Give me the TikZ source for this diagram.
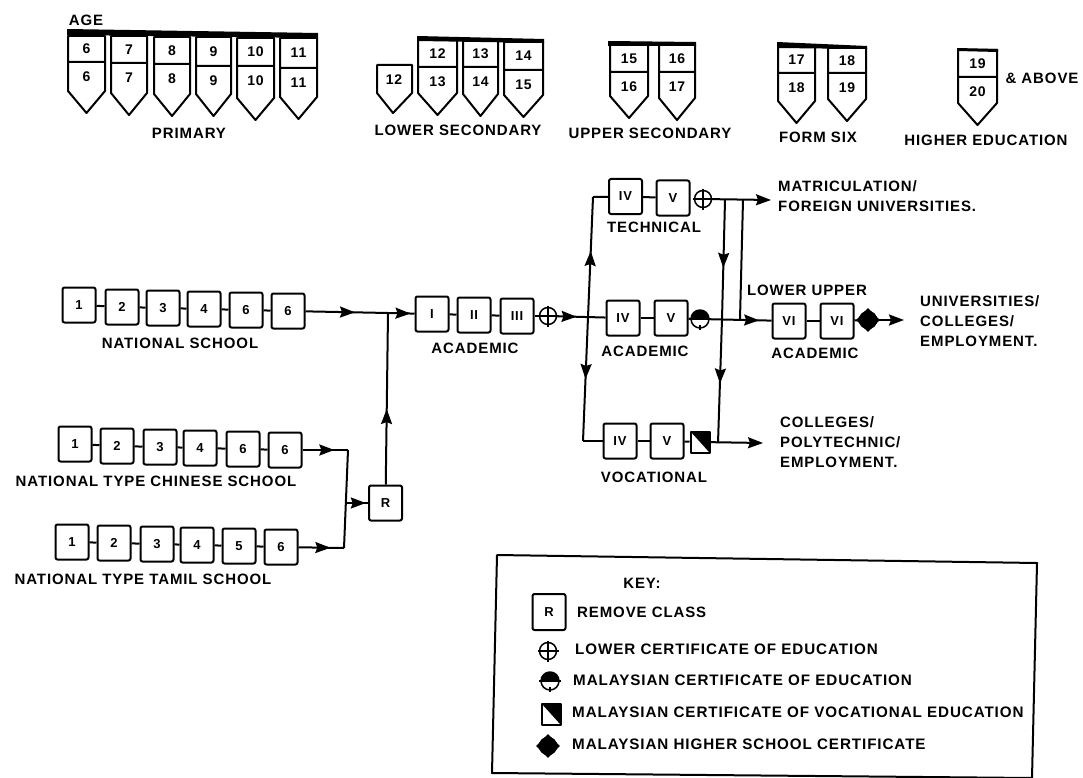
\documentclass[tikz,border=0pt]{standalone}
\usepackage{fontspec}
\setmainfont[LetterSpace=6]{Liberation Sans}
\usetikzlibrary{decorations.markings, arrows.meta, shapes.geometric}
\tikzset{
    txt/.style={inner sep=0pt, font=\fontsize{15}{20}\selectfont\bfseries},
    num/.style={inner sep=0pt, font=\fontsize{14}{16}\selectfont\bfseries},
    lbl/.style={txt, anchor=west, align=left},
    keylbl/.style={lbl, font=\fontsize{15.2}{20}\selectfont\bfseries},
    classbox/.style={draw, line width=2pt, rounded corners=2pt, minimum width=33pt, minimum height=35pt, inner sep=0pt, font=\fontsize{13}{15}\selectfont\bfseries},
    lcemark/.style={draw, circle, line width=1.5pt, minimum size=17pt, inner sep=0pt,
        append after command={
            ([yshift=10.5pt]\tikzlastnode.center) edge[line width=1.5pt] ([yshift=-10.5pt]\tikzlastnode.center)
            ([xshift=-10.5pt]\tikzlastnode.center) edge[line width=1.5pt] ([xshift=10.5pt]\tikzlastnode.center)}},
    mcemark/.style={draw, circle, line width=1.5pt, minimum size=18pt, inner sep=0pt,
        path picture={\fill (path picture bounding box.west) rectangle (path picture bounding box.north east);},
        append after command={
            ([xshift=-11pt]\tikzlastnode.center) edge[line width=2pt] ([xshift=11pt]\tikzlastnode.center)
            ([yshift=-6pt]\tikzlastnode.center) edge[line width=1.5pt] ([yshift=-11pt]\tikzlastnode.center)}},
    mcvemark/.style={draw, line width=2pt, minimum width=19pt, minimum height=21pt, inner sep=0pt,
        path picture={\fill (path picture bounding box.north west) -- (path picture bounding box.north east)
            -- (path picture bounding box.south east) -- cycle;}},
    mhscmark/.style={circle, draw, fill=black, minimum size=18pt, inner sep=0pt,
        append after command={(\tikzlastnode.center) node[diamond, fill=black, minimum size=24pt, inner sep=0pt] {}}},
    flow/.style={line width=2pt},
    arrowat/.style={postaction={decorate, decoration={markings, mark=at position #1 with {\arrow{Stealth[length=15pt,width=11pt,inset=2pt]}}}}},
}
\begin{document}
\begin{tikzpicture}[x=1pt, y=-1pt, >={Stealth[length=15pt,width=11pt,inset=2pt]}, line join=round]
    \useasboundingbox (0,0) rectangle (1083,778);

    % Age shields: left, width, top, divider, tip, upper age, lower age
    \foreach \n/\xl/\wid/\tp/\dv/\tip/\ageA/\ageB in {
        a/68/37/36/62/113/6/6, b/111/36/36/63/115/7/7, c/154/36/37/64/116/8/8, d/196/35/37/66/116/9/9,
        e/237/37/38/66/120/10/10, f/280/37/38/68/119/11/11,
        g/418/39/40/67/115/12/13, h/463/35/41/67/116/13/14, i/504/39/42/70/117/14/15,
        j/610/38/45/72/118/15/16, k/659/36/45/72/120/16/17,
        l/778/37/47/73/123/17/18, m/828/38/48/73/121/18/19,
        n/958/39/50/77/125/19/20} {
        \draw[line width=2pt, line cap=round] (\xl,\tp) -- (\xl+\wid,\tp) -- (\xl+\wid,\tip-22) -- (\xl+\wid/2,\tip)
            -- (\xl,\tip-22) -- cycle (\xl,\dv) -- (\xl+\wid,\dv);
        \node[num] (up\n) at (\xl+\wid/2,{(\tp+\dv)/2}) {\ageA};
        \node[num] (low\n) at (\xl+\wid/2,\dv+15) {\ageB};
    }
    % Single shield for twelve
    \draw[line width=2pt] (377,65) -- (412,65) -- (412,93) -- (393,113) -- (377,93) -- cycle;
    \node[num] (single) at (394,80) {12};

    % Thick bars over the groups
    \fill (67,29) -- (318,33) -- (318,38) -- (67,35) -- cycle;
    \fill (417,36) -- (544,39) -- (544,43) -- (417,41) -- cycle;
    \fill (608,41) -- (696,42) -- (696,46) -- (608,46) -- cycle;
    \fill (777,42) -- (867,46) -- (867,49) -- (777,48) -- cycle;
    \fill (957,48) -- (998,49) -- (998,52) -- (957,51) -- cycle;

    % Stage names
    \node[txt] (age) at (86,20) {AGE};
    \node[txt] (primary) at (189,133) {PRIMARY};
    \node[txt] (lowsec) at (458,130) {LOWER SECONDARY};
    \node[txt] (upsec) at (650,133) {UPPER SECONDARY};
    \node[txt] (formsix) at (818,137) {FORM SIX};
    \node[txt] (higher) at (986,140) {HIGHER EDUCATION};
    \node[txt] (above) at (1042,78) {\& ABOVE};

    % Primary schools
    \foreach \sch/\xa/\ya/\xb/\yb/\xc/\yc/\xd/\yd/\xe/\ye/\xf/\yf/\numE in {
        n/79/305/122/307/163/308/204/309/246/310/288/311/6,
        c/75/444/117/446/160/447/200/448/243/449/285/450/6,
        t/72/542/114/543/157/544/197/545/239/546/281/547/5} {
        \node[classbox] (\sch1) at (\xa,\ya) {1};
        \node[classbox] (\sch2) at (\xb,\yb) {2};
        \node[classbox] (\sch3) at (\xc,\yc) {3};
        \node[classbox] (\sch4) at (\xd,\yd) {4};
        \node[classbox] (\sch5) at (\xe,\ye) {\numE};
        \node[classbox] (\sch6) at (\xf,\yf) {6};
        \foreach \from/\to in {1/2,2/3,3/4,4/5,5/6}
            \draw[flow] (\sch\from) -- (\sch\to);
    }
    \node[txt] (natl) at (180,343) {NATIONAL SCHOOL};
    \node[txt] (chin) at (156,481) {NATIONAL TYPE CHINESE SCHOOL};
    \node[txt] (tam) at (143,579) {NATIONAL TYPE TAMIL SCHOOL};

    % Remove class
    \node[classbox] (remove) at (385.5,503) {R};
    \coordinate (joinA) at (348,450);
    \coordinate (joinB) at (344,548);
    \coordinate (joinC) at (346,503);
    \coordinate (joinD) at (388,313);
    \draw[flow, arrowat=0.7] (c6) -- (joinA);
    \draw[flow, arrowat=0.7] (t6) -- (joinB);
    \draw[flow] (joinB) -- (joinA);
    \draw[flow, arrowat=0.9] (joinC) -- (remove);
    \draw[flow, arrowat=0.44] (remove) -- (joinD);
    \draw[flow, arrowat=0.6] (n6) -- (joinD);

    % Academic forms
    \node[classbox] (acI) at (432,314) {I};
    \node[classbox] (acII) at (474,315) {II};
    \node[classbox] (acIII) at (517,316) {III};
    \node[lcemark] (lceA) at (548,316) {};
    \draw[flow, arrowat=0.85] (joinD) -- (acI);
    \draw[flow] (acI) -- (acII);
    \draw[flow] (acII) -- (acIII);
    \draw[flow] (acIII) -- (lceA);
    \node[classbox] (acIV) at (623,318) {IV};
    \node[classbox] (acV) at (671,318) {V};
    \node[mcemark] (mceA) at (700,319) {};
    \draw[flow, arrowat=0.4] (lceA) -- (acIV);
    \draw[flow] (acIV) -- (acV);
    \draw[flow] (acV) -- (mceA);
    \node[txt] (acadA) at (475,348) {ACADEMIC};
    \node[txt] (acadB) at (645,351) {ACADEMIC};

    % Technical
    \node[classbox] (teIV) at (625.5,196.5) {IV};
    \node[classbox] (teV) at (673,198) {V};
    \node[lcemark] (lceB) at (703,199) {};
    \coordinate (outTe) at (771,200);
    \draw[flow] (teIV) -- (teV);
    \draw[flow, ->] (lceB) -- (outTe);
    \node[txt] (tech) at (654,227) {TECHNICAL};
    \node[lbl] (matric) at (778,196) {MATRICULATION/\\FOREIGN UNIVERSITIES.};

    % Vocational
    \node[classbox] (voIV) at (620,441) {IV};
    \node[classbox] (voV) at (667,441) {V};
    \node[mcvemark] (mcve) at (700,442) {};
    \coordinate (outVo) at (763,443);
    \draw[flow] (voIV) -- (voV);
    \draw[flow] (voV) -- (mcve);
    \draw[flow, ->] (mcve) -- (outVo);
    \node[txt] (voc) at (654,477) {VOCATIONAL};
    \node[lbl] (coll) at (780,442) {COLLEGES/\\POLYTECHNIC/\\EMPLOYMENT.};

    % Branches from the academic line
    \coordinate (leftTop) at (593,197);
    \coordinate (leftMid) at (588,317);
    \coordinate (leftLow) at (583,441);
    \draw[flow, arrowat=0.55] (leftMid) -- (leftTop);
    \draw[flow] (leftTop) -- (teIV);
    \draw[flow, arrowat=0.5] (leftMid) -- (leftLow);
    \draw[flow] (leftLow) -- (voIV);
    \coordinate (dropTop) at (725,200);
    \coordinate (dropMid) at (722,319);
    \coordinate (dropLow) at (718,443);
    \coordinate (sideTop) at (743,200);
    \coordinate (sideLow) at (740,319);
    \draw[flow, arrowat=0.57] (dropTop) -- (dropMid);
    \draw[flow, arrowat=0.52] (dropMid) -- (dropLow);
    \draw[flow] (sideTop) -- (sideLow);

    % Lower and upper six
    \node[classbox] (sixA) at (789,321) {VI};
    \node[classbox] (sixB) at (837,321) {VI};
    \node[mhscmark] (mhsc) at (868,320) {};
    \coordinate (outSix) at (904,320);
    \draw[flow, arrowat=0.8] (mceA) -- (sixA);
    \draw[flow] (sixA) -- (sixB);
    \draw[flow] (sixB) -- (mhsc);
    \draw[flow, ->] (mhsc) -- (outSix);
    \node[txt] (lowup) at (807,290) {LOWER UPPER};
    \node[txt] (acadC) at (815,353) {ACADEMIC};
    \node[lbl] (univ) at (920,321) {UNIVERSITIES/\\COLLEGES/\\EMPLOYMENT.};

    % Key
    \draw[line width=2pt] (497,555) -- (1037,563) -- (1032,778) -- (492,773) -- cycle;
    \node[txt] (key) at (642,583) {KEY:};
    \node[classbox, minimum height=36pt] (keyR) at (549,612) {R};
    \node[lbl] (keyRtxt) at (577,612) {REMOVE CLASS};
    \node[lcemark] (keyLce) at (548,651) {};
    \node[keylbl] (keyLcetxt) at (575,649) {LOWER CERTIFICATE OF EDUCATION};
    \node[mcemark] (keyMce) at (550,681) {};
    \node[keylbl] (keyMcetxt) at (573,680) {MALAYSIAN CERTIFICATE OF EDUCATION};
    \node[mcvemark] (keyMcve) at (551,714) {};
    \node[keylbl] (keyMcvetxt) at (572,712) {MALAYSIAN CERTIFICATE OF VOCATIONAL EDUCATION};
    \node[mhscmark] (keyMhsc) at (548,746) {};
    \node[keylbl] (keyMhsctxt) at (572,744) {MALAYSIAN HIGHER SCHOOL CERTIFICATE};
\end{tikzpicture}
\end{document}
